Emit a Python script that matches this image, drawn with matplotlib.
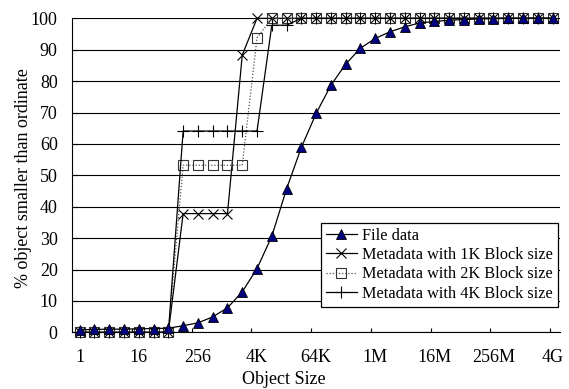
import matplotlib
matplotlib.use("Agg")
import matplotlib.pyplot as plt
import numpy as np

plt.rcParams['font.family'] = ['Liberation Serif', 'DejaVu Serif']

# Object size categories: 2^0 .. 2^32 bytes
size_labels = ["1", "16", "256", "4K", "64K", "1M", "16M", "256M", "4G"]
n_cats = 33

file_data = [0.8, 0.9, 1.0, 1.0, 1.1, 1.2, 1.3, 2.1, 3.0, 4.9, 7.8, 12.9, 20.3,
             30.6, 45.7, 58.9, 69.7, 78.7, 85.4, 90.5, 93.6, 95.7, 97.3, 98.5,
             99.0, 99.4, 99.6, 99.8, 99.9, 100, 100, 100, 100]
meta_1k = [0, 0, 0, 0, 0, 0, 0, 37.8, 37.8, 37.8, 37.8, 88.3, 100,
           100, 100, 100, 100, 100, 100, 100, 100, 100, 100, 100,
           100, 100, 100, 100, 100, 100, 100, 100, 100]
meta_2k = [0, 0, 0, 0, 0, 0, 0, 53.2, 53.2, 53.2, 53.2, 53.2, 93.8,
           100, 100, 100, 100, 100, 100, 100, 100, 100, 100, 100,
           100, 100, 100, 100, 100, 100, 100, 100, 100]
meta_4k = [0, 0, 0, 0, 0, 0, 0, 64.1, 64.1, 64.1, 64.1, 64.1, 64.1,
           97.8, 97.8, 100, 100, 100, 100, 100, 100, 100, 100, 100,
           100, 100, 100, 100, 100, 100, 100, 100, 100]

W, H = 569, 389
fig = plt.figure(figsize=(W / 100, H / 100), dpi=100)
L, R, T, B = 72.3, 560, 18.3, 332.3
ax = fig.add_axes([L / W, 1 - B / H, (R - L) / W, (B - T) / H])

x = np.arange(n_cats)

l1, = ax.plot(x, meta_1k, color='black', lw=0.9, marker='x', ms=7.2, mew=0.8,
              mec='black', clip_on=False, zorder=3, label='Metadata with 1K Block size')
l2, = ax.plot(x, meta_2k, color='#555555', lw=0.9, ls=(0, (1, 1.5)), marker='s', ms=7.5,
              mew=0.8, mec='#333333', mfc='none', clip_on=False, zorder=3,
              label='Metadata with 2K Block size')
l3, = ax.plot(x, meta_4k, color='black', lw=0.9, marker='+', ms=8, mew=0.8,
              mec='black', clip_on=False, zorder=3, label='Metadata with 4K Block size')
l0, = ax.plot(x, file_data, color='black', lw=0.9, marker='^', ms=7.5, mew=0.6,
              mfc='#000080', mec='black', clip_on=False, zorder=4, label='File data')

ax.set_xlim(-0.5, n_cats - 0.5)
ax.set_ylim(0, 100)

label_pos = np.arange(0, n_cats, 4)
ax.set_xticks(label_pos)
ax.set_xticklabels(size_labels, fontsize=13)
ax.set_xticks(np.arange(8) * 4.04 + 3.54, minor=True)
ax.tick_params(axis='x', which='major', length=0, pad=12)
ax.tick_params(axis='x', which='minor', direction='in', length=3, width=0.8)

ax.set_yticks(np.arange(0, 101, 10))
ax.tick_params(axis='y', direction='in', length=4, width=0.8, labelsize=13, pad=10.5)

ax.grid(axis='y', color='black', lw=0.8)
ax.set_axisbelow(True)
for s in ['top', 'right']:
    ax.spines[s].set_visible(False)
for s in ['left', 'bottom']:
    ax.spines[s].set_linewidth(0.8)

ax.set_ylabel('% object smaller than ordinate', fontsize=13)
ax.yaxis.set_label_coords(-0.082, 0.49)
fig.text(284 / W, 1 - 379 / H, 'Object Size', fontsize=13, ha='center', va='center')

leg = ax.legend(handles=[l0, l1, l2, l3], loc='upper right',
                bbox_to_anchor=(0.996, 0.348), fontsize=11.7, frameon=True,
                fancybox=False, edgecolor='black', framealpha=1, borderpad=0.3,
                labelspacing=0.2, handlelength=1.9, handletextpad=0.35,
                borderaxespad=0)
leg.get_frame().set_linewidth(0.9)
leg.set_zorder(10)

fig.savefig('out.png', dpi=100)
